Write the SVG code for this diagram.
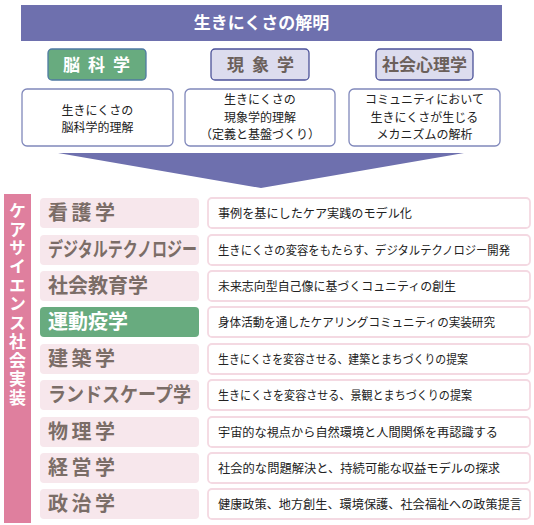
<svg xmlns="http://www.w3.org/2000/svg" width="534" height="525" viewBox="0 0 534 525">
<style>
text{font-family:"Noto Sans CJK JP","Noto Sans",sans-serif}
.title{fill:#fff;font-size:17px;font-weight:bold}
.hd{font-size:17px;font-weight:bold}
.dsc{fill:#fff;stroke:#8088bb;stroke-width:1.3}
.dt{font-size:12px;fill:#222;text-anchor:middle}
.sub{fill:#f7e7ec}
.subg{fill:#68ab7f}
.st{font-size:20px;font-weight:bold;fill:#7b6d67}
.stg{font-size:20px;font-weight:bold;fill:#fff}
.rb{fill:#fff;stroke:#f4d9e2;stroke-width:1.8}
.rt{font-size:12px;fill:#222}
.vt{fill:#fff;font-size:17px;font-weight:bold;writing-mode:vertical-rl;letter-spacing:1.7px}
</style>
<rect x="0" y="0" width="534" height="525" fill="#fff"/>
<g id="banner">
<rect x="21" y="5" width="481" height="36" fill="#6e70ae"/>
<text class="title" x="261.5" y="29" text-anchor="middle">生きにくさの解明</text>
</g>
<g id="h-nou">
<rect x="48" y="49" width="98" height="31" rx="4" fill="#68ab7f" stroke="#4f7aa3" stroke-width="1.3"/>
<text class="hd" x="63" y="70.5" fill="#fff" letter-spacing="8">脳科学</text>
</g>
<g id="h-gen">
<rect x="211" y="49" width="98" height="31" rx="4" fill="#dcdcee" stroke="#4c5299" stroke-width="1.3"/>
<text class="hd" x="227" y="70.5" fill="#6b605b" letter-spacing="8">現象学</text>
</g>
<g id="h-sha">
<rect x="376" y="49" width="97" height="31" rx="4" fill="#dcdcee" stroke="#4c5299" stroke-width="1.3"/>
<text class="hd" x="382" y="70.5" fill="#6b605b">社会心理学</text>
</g>
<g id="d-nou">
<rect class="dsc" x="22" y="89" width="151" height="57" rx="5"/>
<text class="dt" x="97.5" y="114.8">生きにくさの</text>
<text class="dt" x="97.5" y="132.3">脳科学的理解</text>
</g>
<g id="d-gen">
<rect class="dsc" x="185" y="89" width="150" height="57" rx="5"/>
<text class="dt" x="260" y="104.3">生きにくさの</text>
<text class="dt" x="260" y="121.8">現象学的理解</text>
<text class="dt" x="260" y="139.3">（定義と基盤づくり）</text>
</g>
<g id="d-sha">
<rect class="dsc" x="349" y="89" width="151" height="57" rx="5"/>
<text class="dt" x="424.5" y="104.3">コミュニティにおいて</text>
<text class="dt" x="424.5" y="121.8">生きにくさが生じる</text>
<text class="dt" x="424.5" y="139.3">メカニズムの解析</text>
</g>
<g id="connectors">
<polygon points="58,153 464,153 261,188" fill="#6e70ae"/>
</g>
<g id="side-label">
<rect x="4" y="194" width="27" height="329" fill="#df7f9e"/>
<text class="vt" x="17.5" y="202">ケアサイエンス社会実装</text>
</g>
<g id="row1">
<rect class="sub" x="40" y="198" width="159" height="30" rx="4"/>
<text class="st" x="48" y="220" letter-spacing="3.5">看護学</text>
<rect class="rb" x="208" y="198" width="322" height="30" rx="4"/>
<text class="rt" x="218" y="217.5" textLength="194" lengthAdjust="spacingAndGlyphs">事例を基にしたケア実践のモデル化</text>
</g>
<g id="row2">
<rect class="sub" x="40" y="235" width="159" height="30" rx="4"/>
<text class="st" x="48" y="257" textLength="149" lengthAdjust="spacingAndGlyphs">デジタルテクノロジー</text>
<rect class="rb" x="208" y="235" width="322" height="30" rx="4"/>
<text class="rt" x="218" y="254.5" textLength="292" lengthAdjust="spacingAndGlyphs">生きにくさの変容をもたらす、デジタルテクノロジー開発</text>
</g>
<g id="row3">
<rect class="sub" x="40" y="271" width="159" height="30" rx="4"/>
<text class="st" x="48" y="293">社会教育学</text>
<rect class="rb" x="208" y="271" width="322" height="30" rx="4"/>
<text class="rt" x="218" y="290.5" textLength="238" lengthAdjust="spacingAndGlyphs">未来志向型自己像に基づくコュニティの創生</text>
</g>
<g id="row4">
<rect class="subg" x="40" y="307" width="159" height="30" rx="4"/>
<text class="stg" x="48" y="329">運動疫学</text>
<rect class="rb" x="208" y="307" width="322" height="30" rx="4"/>
<text class="rt" x="218" y="326.5" textLength="277" lengthAdjust="spacingAndGlyphs">身体活動を通したケアリングコミュニティの実装研究</text>
</g>
<g id="row5">
<rect class="sub" x="40" y="344" width="159" height="30" rx="4"/>
<text class="st" x="48" y="366" letter-spacing="3.5">建築学</text>
<rect class="rb" x="208" y="344" width="322" height="30" rx="4"/>
<text class="rt" x="218" y="363.5" textLength="250" lengthAdjust="spacingAndGlyphs">生きにくさを変容させる、建築とまちづくりの提案</text>
</g>
<g id="row6">
<rect class="sub" x="40" y="380" width="159" height="30" rx="4"/>
<text class="st" x="48" y="402" textLength="143" lengthAdjust="spacingAndGlyphs">ランドスケープ学</text>
<rect class="rb" x="208" y="380" width="322" height="30" rx="4"/>
<text class="rt" x="218" y="399.5" textLength="254" lengthAdjust="spacingAndGlyphs">生きにくさを変容させる、景観とまちづくりの提案</text>
</g>
<g id="row7">
<rect class="sub" x="40" y="417" width="159" height="30" rx="4"/>
<text class="st" x="48" y="439" letter-spacing="3.5">物理学</text>
<rect class="rb" x="208" y="417" width="322" height="30" rx="4"/>
<text class="rt" x="218" y="436.5" textLength="280" lengthAdjust="spacingAndGlyphs">宇宙的な視点から自然環境と人間関係を再認識する</text>
</g>
<g id="row8">
<rect class="sub" x="40" y="453" width="159" height="30" rx="4"/>
<text class="st" x="48" y="475" letter-spacing="3.5">経営学</text>
<rect class="rb" x="208" y="453" width="322" height="30" rx="4"/>
<text class="rt" x="218" y="472.5" textLength="282" lengthAdjust="spacingAndGlyphs">社会的な問題解決と、持続可能な収益モデルの探求</text>
</g>
<g id="row9">
<rect class="sub" x="40" y="489" width="159" height="30" rx="4"/>
<text class="st" x="48" y="511" letter-spacing="3.5">政治学</text>
<rect class="rb" x="208" y="489" width="322" height="30" rx="4"/>
<text class="rt" x="218" y="508.5" textLength="304" lengthAdjust="spacingAndGlyphs">健康政策、地方創生、環境保護、社会福祉への政策提言</text>
</g>
</svg>
